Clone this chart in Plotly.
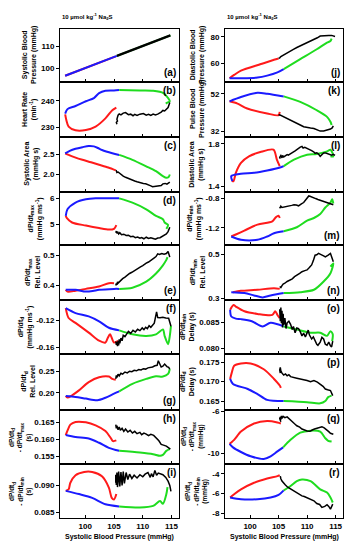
import plotly.graph_objects as go

# ---------------- data: (systolic BP, value) pairs per phase ----------------
a_red = [(105.3, 105.3), (96.5, 96.5)]
a_blue = [(96.5, 96.5), (105.5, 105.5)]
a_green = [(105.5, 105.5), (114.8, 114.8)]
a_black = [(114.8, 114.8), (105.5, 105.5)]

b_red = [(105.4, 237.5), (104.7, 236.5), (103.5, 233.4), (101.8, 230.3), (100.1, 229.0), (98.3, 228.9), (97.1, 230.3), (96.7, 232.8), (96.5, 234.9)]
b_blue = [(96.5, 235.2), (96.9, 236.9), (98.3, 238.1), (100.1, 239.9), (101.5, 241.1), (102.4, 243.0), (103.5, 243.9), (105.0, 244.0), (105.9, 244.1)]
b_green = [(105.9, 244.1), (109.5, 244.0), (111.8, 243.9), (113.6, 243.0), (114.4, 241.1), (114.7, 239.9), (114.2, 239.3), (114.0, 239.0)]
b_black = [(114.7, 239.4), (114.6, 238.5), (114.4, 237.5), (113.8, 236.2), (113.5, 236.4), (113.2, 235.8), (112.9, 235.3), (112.6, 235.0), (112.2, 234.7), (111.8, 235.0), (111.4, 234.5), (111.0, 234.9), (110.6, 234.6), (110.1, 235.2), (109.5, 235.0), (109.0, 234.5), (108.6, 234.9), (108.3, 234.4), (107.9, 235.0), (107.5, 234.8), (107.0, 235.6), (106.6, 235.4), (106.2, 234.7), (105.9, 235.1), (105.7, 234.6), (105.6, 233.8), (105.5, 233.1), (105.6, 232.4), (105.4, 231.9), (105.5, 231.2)]

c_red = [(105.3, 2.10), (104.0, 2.17), (102.4, 2.24), (101.0, 2.30), (99.5, 2.36), (98.2, 2.42), (97.1, 2.48), (96.5, 2.52)]
c_blue = [(96.5, 2.52), (97.3, 2.58), (98.3, 2.63), (99.5, 2.67), (100.6, 2.70), (101.5, 2.69), (102.2, 2.65), (102.9, 2.60), (104.7, 2.52), (105.9, 2.48)]
c_green = [(105.9, 2.48), (108.2, 2.36), (110.6, 2.20), (112.3, 2.08), (113.5, 1.96), (114.1, 1.92), (114.5, 1.94), (114.7, 2.00)]
c_black = [(114.7, 1.81), (114.5, 1.78), (114.2, 1.76), (113.9, 1.78), (113.5, 1.77), (113.2, 1.73), (112.8, 1.72), (112.4, 1.70), (112.0, 1.69), (111.7, 1.70), (111.4, 1.72), (111.1, 1.74), (110.8, 1.75), (110.5, 1.77), (110.1, 1.78), (109.7, 1.79), (109.4, 1.81), (109.0, 1.82), (108.6, 1.84), (108.2, 1.86), (107.8, 1.88), (107.4, 1.90), (107.0, 1.93), (106.6, 1.96), (106.2, 2.00), (105.9, 2.02), (105.7, 2.06), (105.5, 2.05), (105.4, 2.09), (105.3, 2.08)]

d_red = [(105.4, 4.96), (105.0, 4.81), (104.1, 4.78), (102.4, 4.84), (100.1, 4.94), (97.7, 5.06), (96.8, 5.23), (96.6, 5.32)]
d_blue = [(96.6, 5.32), (96.9, 5.58), (98.3, 5.84), (100.1, 5.97), (101.8, 6.01), (105.0, 6.01), (105.9, 6.01)]
d_green = [(105.9, 6.01), (108.2, 5.84), (110.6, 5.58), (112.3, 5.32), (113.5, 5.19), (113.8, 5.06), (114.4, 4.96), (114.1, 4.81)]
d_black = [(114.7, 4.87), (114.6, 4.78), (114.4, 4.70), (114.1, 4.61), (113.7, 4.56), (113.3, 4.50), (113.0, 4.46), (112.6, 4.45), (112.2, 4.40), (111.8, 4.43), (111.4, 4.46), (111.0, 4.43), (110.6, 4.48), (110.2, 4.42), (109.8, 4.47), (109.5, 4.44), (109.1, 4.49), (108.7, 4.46), (108.3, 4.52), (107.9, 4.50), (107.5, 4.56), (107.1, 4.55), (106.7, 4.60), (106.3, 4.58), (106.0, 4.66), (105.8, 4.61), (105.6, 4.70), (105.5, 4.63), (105.4, 4.72), (105.3, 4.66)]

e_red = [(105.0, 0.408), (104.1, 0.408), (102.4, 0.397), (100.1, 0.389), (98.3, 0.383), (96.9, 0.380), (96.6, 0.386)]
e_blue = [(96.6, 0.386), (98.3, 0.386), (100.1, 0.380), (101.3, 0.382), (102.4, 0.386), (105.0, 0.389), (105.9, 0.389)]
e_green = [(105.9, 0.389), (108.2, 0.393), (110.6, 0.413), (112.3, 0.440), (113.5, 0.467), (114.1, 0.485), (114.3, 0.494)]
e_black = [(114.7, 0.494), (114.5, 0.503), (114.4, 0.513), (114.1, 0.506), (113.7, 0.504), (113.3, 0.506), (112.9, 0.503), (112.6, 0.505), (112.3, 0.496), (112.0, 0.492), (111.7, 0.487), (111.4, 0.484), (111.0, 0.478), (110.6, 0.474), (110.3, 0.469), (110.0, 0.466), (109.6, 0.462), (109.3, 0.458), (108.9, 0.455), (108.5, 0.449), (108.1, 0.444), (107.7, 0.440), (107.3, 0.433), (106.9, 0.428), (106.5, 0.423), (106.2, 0.418), (105.9, 0.414), (105.7, 0.408), (105.6, 0.412), (105.5, 0.402), (105.4, 0.407), (105.3, 0.400)]

f_red = [(105.7, -0.150), (105.0, -0.1527), (104.3, -0.1405), (103.9, -0.146), (103.5, -0.1527), (102.4, -0.150), (100.6, -0.138), (98.3, -0.1234), (97.1, -0.1161), (96.6, -0.1015)]
f_blue = [(96.6, -0.1015), (98.3, -0.1088), (100.6, -0.1137), (102.4, -0.121), (104.1, -0.1307), (105.9, -0.1346)]
f_green = [(105.9, -0.1346), (108.2, -0.1405), (110.6, -0.1429), (112.3, -0.1405), (113.5, -0.1332), (113.8, -0.1429), (114.4, -0.1551), (114.7, -0.1429), (114.9, -0.128)]
f_black = [(114.9, -0.1285), (114.7, -0.1220), (114.5, -0.1165), (114.0, -0.1160), (113.5, -0.1150), (113.0, -0.1158), (112.6, -0.1155), (112.4, -0.1070), (112.2, -0.1180), (112.0, -0.1240), (111.7, -0.1270), (111.4, -0.1300), (111.1, -0.1275), (110.8, -0.1320), (110.5, -0.1300), (110.2, -0.1335), (109.9, -0.1310), (109.5, -0.1350), (109.1, -0.1330), (108.7, -0.1370), (108.3, -0.1345), (107.9, -0.1390), (107.5, -0.1360), (107.2, -0.1410), (106.9, -0.1440), (106.6, -0.1420), (106.4, -0.1500), (106.2, -0.1460), (106.0, -0.1540), (105.9, -0.1480), (105.8, -0.1570), (105.7, -0.1500), (105.6, -0.1580), (105.5, -0.1520), (105.4, -0.1560), (105.3, -0.1510)]

g_red = [(105.3, 0.2305), (104.7, 0.2328), (104.1, 0.2383), (102.4, 0.2367), (100.6, 0.225), (98.9, 0.2055), (97.7, 0.1938), (96.9, 0.1883), (96.6, 0.1922)]
g_blue = [(96.6, 0.1922), (98.3, 0.190), (100.1, 0.186), (102.1, 0.182), (103.5, 0.188), (105.0, 0.1977), (105.9, 0.2031)]
g_green = [(105.9, 0.2031), (108.2, 0.2211), (110.6, 0.2328), (112.3, 0.239), (113.5, 0.2383), (114.4, 0.2445), (114.7, 0.2563)]
g_black = [(114.7, 0.2560), (114.5, 0.2600), (114.2, 0.2620), (113.8, 0.2680), (113.5, 0.2630), (113.2, 0.2610), (112.9, 0.2700), (112.7, 0.2760), (112.5, 0.2650), (112.1, 0.2640), (111.7, 0.2610), (111.3, 0.2605), (110.9, 0.2590), (110.5, 0.2560), (110.1, 0.2570), (109.7, 0.2540), (109.3, 0.2550), (108.9, 0.2520), (108.5, 0.2530), (108.1, 0.2500), (107.7, 0.2510), (107.3, 0.2470), (106.9, 0.2490), (106.5, 0.2440), (106.2, 0.2460), (105.9, 0.2400), (105.7, 0.2440), (105.5, 0.2360), (105.4, 0.2410), (105.3, 0.2330)]

h_red = [(105.4, 0.1597), (104.8, 0.1595), (104.4, 0.1605), (103.5, 0.1625), (101.8, 0.1642), (100.1, 0.1651), (98.3, 0.1652), (97.4, 0.1644), (96.9, 0.1626), (96.6, 0.1613)]
h_blue = [(96.6, 0.1613), (98.3, 0.1607), (100.6, 0.1603), (102.4, 0.159), (104.1, 0.1575), (105.9, 0.1566)]
h_green = [(105.9, 0.1566), (109.5, 0.1561), (111.8, 0.1556), (113.0, 0.1551), (113.5, 0.1554), (114.1, 0.1566), (114.7, 0.1571)]
h_black = [(114.8, 0.1571), (114.5, 0.1575), (114.1, 0.1580), (113.6, 0.1583), (113.2, 0.1585), (112.8, 0.1596), (112.3, 0.1605), (111.9, 0.1612), (111.4, 0.1615), (111.0, 0.1611), (110.6, 0.1616), (110.2, 0.1619), (109.8, 0.1614), (109.5, 0.1621), (109.0, 0.1617), (108.6, 0.1624), (108.2, 0.1619), (107.8, 0.1627), (107.4, 0.1622), (107.0, 0.1631), (106.7, 0.1624), (106.4, 0.1633), (106.1, 0.1627), (105.9, 0.1637), (105.7, 0.1629), (105.5, 0.1641), (105.4, 0.1633), (105.3, 0.1644)]

i_red = [(105.4, 0.0884), (105.0, 0.0874), (104.6, 0.0877), (104.1, 0.0896), (102.9, 0.0917), (101.2, 0.0925), (99.8, 0.0925), (98.3, 0.0919), (97.4, 0.0905), (97.1, 0.0893), (96.6, 0.0890)]
i_blue = [(96.6, 0.0890), (98.9, 0.0884), (101.2, 0.0877), (103.5, 0.0865), (105.9, 0.0861)]
i_green = [(105.9, 0.0861), (109.5, 0.0859), (111.8, 0.0862), (113.0, 0.0871), (113.5, 0.0866), (114.1, 0.0884), (114.3, 0.0897)]
i_black = [(114.9, 0.0889), (114.7, 0.0900), (114.4, 0.0908), (114.0, 0.0915), (113.5, 0.0920), (113.1, 0.0921), (112.7, 0.0923), (112.4, 0.0919), (112.1, 0.0928), (111.8, 0.0916), (111.5, 0.0922), (111.3, 0.0915), (110.9, 0.0924), (110.4, 0.0921), (110.0, 0.0916), (109.5, 0.0920), (109.0, 0.0914), (108.5, 0.0919), (108.1, 0.0913), (107.7, 0.0921), (107.4, 0.0911), (107.1, 0.0924), (106.8, 0.0904), (106.6, 0.0926), (106.4, 0.0900), (106.2, 0.0925), (106.0, 0.0898), (105.8, 0.0926), (105.6, 0.0897), (105.5, 0.0924), (105.4, 0.0901), (105.3, 0.0920), (105.3, 0.0905)]

j_red = [(105.0, 63.5), (104.2, 62.5), (101.9, 59.25), (98.4, 54.25), (97.2, 51.0), (96.4, 48.5)]
j_blue = [(96.4, 48.5), (98.4, 48.5), (101.3, 49.0), (103.0, 50.5), (104.8, 53.0), (105.9, 55.5)]
j_green = [(105.9, 55.5), (108.8, 63.0), (111.7, 70.5), (113.5, 75.5), (114.1, 76.75), (114.3, 78.5)]
j_black = [(114.9, 80.2), (114.6, 80.8), (114.3, 81.0), (113.8, 80.9), (113.2, 80.7), (112.6, 80.4), (112.3, 80.5), (111.8, 79.2), (111.2, 78.0), (110.6, 77.2), (110.0, 76.0), (109.4, 74.6), (108.8, 73.0), (108.2, 71.8), (107.6, 70.4), (107.1, 69.3), (106.5, 68.0), (106.0, 66.8), (105.6, 66.0), (105.4, 65.0), (105.2, 64.0), (105.0, 63.5)]

k_red = [(105.2, 42.4), (105.0, 40.7), (103.0, 41.6), (99.5, 44.2), (97.8, 46.8), (96.4, 48.0)]
k_blue = [(96.4, 48.0), (98.4, 50.3), (101.3, 52.5), (103.0, 52.0), (105.9, 50.6)]
k_green = [(105.9, 50.6), (108.8, 47.7), (111.7, 43.3), (113.5, 39.8), (114.1, 37.2), (114.3, 35.5)]
k_black = [(114.6, 35.1), (114.4, 34.0), (114.1, 33.4), (113.5, 32.8), (112.9, 32.4), (112.3, 32.3), (111.8, 33.0), (111.2, 33.7), (110.6, 33.9), (110.0, 34.3), (109.4, 34.6), (108.8, 35.5), (108.2, 36.4), (107.7, 37.2), (107.1, 38.0), (106.5, 38.9), (105.9, 39.8), (105.5, 40.3), (105.2, 40.9), (105.0, 40.7)]

l_red = [(105.2, 1.588), (104.7, 1.650), (104.1, 1.744), (101.8, 1.722), (99.8, 1.681), (98.4, 1.619), (97.5, 1.525), (97.1, 1.447), (96.8, 1.447)]
l_blue = [(96.9, 1.447), (96.7, 1.494), (98.4, 1.516), (100.7, 1.525), (103.0, 1.547), (105.4, 1.578), (105.9, 1.588)]
l_green = [(105.9, 1.588), (107.7, 1.650), (110.0, 1.697), (111.7, 1.703), (113.5, 1.728), (114.1, 1.744), (114.6, 1.681), (114.1, 1.681)]
l_black = [(114.9, 1.690), (114.6, 1.700), (114.3, 1.692), (114.1, 1.697), (113.7, 1.706), (113.3, 1.712), (112.9, 1.713), (112.6, 1.695), (112.3, 1.681), (112.0, 1.702), (111.7, 1.715), (111.4, 1.710), (111.2, 1.722), (110.8, 1.735), (110.4, 1.748), (110.0, 1.759), (109.6, 1.766), (109.3, 1.760), (109.1, 1.775), (108.8, 1.768), (108.5, 1.752), (108.2, 1.744), (107.9, 1.732), (107.6, 1.720), (107.4, 1.713), (107.0, 1.703), (106.7, 1.692), (106.5, 1.697), (106.2, 1.685), (105.9, 1.676), (105.7, 1.690), (105.6, 1.666), (105.4, 1.688), (105.2, 1.672), (105.3, 1.660)]

m_red = [(105.2, -1.065), (105.0, -1.034), (104.5, -1.056), (103.9, -1.110), (101.3, -1.155), (99.0, -1.236), (97.5, -1.290), (96.7, -1.317)]
m_blue = [(96.7, -1.317), (98.4, -1.362), (101.3, -1.362), (103.0, -1.317), (104.2, -1.272), (105.9, -1.245)]
m_green = [(105.9, -1.245), (108.2, -1.191), (110.0, -1.101), (111.2, -1.065), (112.3, -1.011), (113.2, -0.921), (114.1, -0.854), (114.4, -0.809), (114.6, -0.867)]
m_black = [(114.6, -0.885), (114.3, -0.878), (113.9, -0.864), (113.5, -0.854), (113.1, -0.845), (112.7, -0.833), (112.3, -0.822), (111.9, -0.812), (111.5, -0.800), (111.2, -0.787), (110.8, -0.775), (110.5, -0.768), (110.3, -0.764), (110.0, -0.790), (109.7, -0.820), (109.4, -0.854), (109.0, -0.872), (108.5, -0.899), (108.1, -0.889), (107.7, -0.885), (107.3, -0.893), (106.8, -0.899), (106.4, -0.906), (106.0, -0.915), (105.6, -0.921), (105.4, -0.905), (105.3, -0.930), (105.2, -0.912)]

n_red = [(105.2, 0.342), (104.2, 0.345), (101.3, 0.338), (98.4, 0.333), (97.0, 0.327)]
n_blue = [(96.7, 0.327), (99.0, 0.323), (100.7, 0.312), (102.2, 0.303), (103.6, 0.312), (105.9, 0.323)]
n_green = [(105.9, 0.323), (108.8, 0.327), (111.2, 0.338), (112.9, 0.376), (114.1, 0.414), (114.6, 0.459), (114.1, 0.444)]
n_black = [(114.6, 0.467), (114.4, 0.486), (114.1, 0.505), (113.7, 0.497), (113.2, 0.489), (112.9, 0.494), (112.6, 0.497), (112.3, 0.503), (112.0, 0.505), (111.7, 0.499), (111.4, 0.497), (111.1, 0.472), (110.8, 0.452), (110.4, 0.440), (110.0, 0.429), (109.6, 0.426), (109.1, 0.421), (108.7, 0.413), (108.2, 0.406), (107.8, 0.398), (107.4, 0.388), (106.9, 0.382), (106.5, 0.376), (106.1, 0.368), (105.8, 0.364), (105.6, 0.357), (105.4, 0.348), (105.2, 0.353)]

o_red = [(105.2, 0.0858), (104.8, 0.0864), (104.4, 0.0871), (103.9, 0.0864), (101.3, 0.0866), (99.0, 0.0871), (97.5, 0.0880), (97.1, 0.0883), (96.5, 0.0874)]
o_blue = [(96.5, 0.0874), (96.7, 0.0861), (97.5, 0.0857), (98.4, 0.0856), (100.3, 0.0852), (102.2, 0.0842), (103.6, 0.0849), (105.9, 0.0842)]
o_green = [(105.9, 0.0842), (108.2, 0.0836), (110.6, 0.0830), (112.3, 0.0830), (113.5, 0.0824), (114.1, 0.0833), (114.5, 0.0827), (114.4, 0.0814)]
o_black = [(114.5, 0.0814), (114.3, 0.0803), (114.1, 0.0805), (113.8, 0.0812), (113.5, 0.0806), (113.2, 0.0808), (112.9, 0.0818), (112.6, 0.0821), (112.3, 0.0812), (111.9, 0.0806), (111.7, 0.0808), (111.4, 0.0816), (111.1, 0.0822), (110.8, 0.0818), (110.4, 0.0826), (110.2, 0.0835), (110.0, 0.0830), (109.7, 0.0822), (109.4, 0.0829), (109.1, 0.0824), (108.8, 0.0832), (108.5, 0.0838), (108.2, 0.0839), (107.9, 0.0830), (107.6, 0.0842), (107.4, 0.0836), (107.1, 0.0846), (106.8, 0.0852), (106.5, 0.0849), (106.3, 0.0838), (106.1, 0.0858), (105.9, 0.0845), (105.8, 0.0866), (105.7, 0.0840), (105.6, 0.0872), (105.5, 0.0848), (105.4, 0.0878), (105.3, 0.0852), (105.2, 0.0875), (105.3, 0.0860)]

p_red = [(105.4, 0.1684), (105.2, 0.1690), (104.2, 0.1707), (102.4, 0.1732), (100.1, 0.1747), (98.4, 0.1747), (97.2, 0.1741), (96.8, 0.1724), (96.5, 0.1707)]
p_blue = [(96.5, 0.1707), (97.0, 0.1694), (99.6, 0.1681), (101.3, 0.1668), (103.0, 0.1653), (105.9, 0.1650)]
p_green = [(105.9, 0.1650), (110.0, 0.1647), (112.3, 0.1644), (113.2, 0.1650), (113.7, 0.1660), (114.3, 0.1664)]
p_black = [(114.5, 0.1664), (114.3, 0.1672), (114.1, 0.1677), (113.6, 0.1679), (113.2, 0.1681), (112.8, 0.1688), (112.3, 0.1694), (111.8, 0.1699), (111.2, 0.1703), (110.6, 0.1700), (110.0, 0.1703), (109.4, 0.1706), (108.8, 0.1707), (108.2, 0.1709), (107.7, 0.1711), (107.1, 0.1713), (106.8, 0.1718), (106.5, 0.1715), (106.2, 0.1720), (105.9, 0.1717), (105.6, 0.1722), (105.4, 0.1728), (105.3, 0.1737), (105.2, 0.1730), (105.3, 0.1722)]

q_red = [(105.4, -7.17), (104.8, -7.07), (103.0, -6.94), (100.7, -7.17), (98.4, -7.95), (97.2, -8.74), (96.7, -8.99), (96.4, -9.12)]
q_blue = [(96.4, -9.12), (97.0, -9.46), (98.4, -9.90), (100.1, -10.31), (102.4, -10.57), (103.6, -10.31), (104.8, -9.84), (105.8, -9.46)]
q_green = [(105.8, -9.46), (107.1, -8.74), (108.8, -8.05), (110.6, -7.86), (112.3, -7.95), (113.2, -8.58), (113.7, -8.83), (114.3, -8.90)]
q_black = [(114.6, -8.20), (114.4, -8.15), (114.1, -8.11), (113.8, -7.95), (113.5, -7.80), (113.0, -7.60), (112.6, -7.48), (112.2, -7.55), (111.7, -7.57), (111.3, -7.70), (110.9, -7.80), (110.5, -7.92), (110.0, -7.89), (109.6, -7.82), (109.1, -7.70), (108.7, -7.52), (108.2, -7.39), (107.8, -7.20), (107.4, -7.01), (106.9, -6.75), (106.5, -6.54), (106.1, -6.62), (105.8, -6.50), (105.6, -6.69), (105.5, -6.45), (105.4, -6.80), (105.3, -6.55), (105.2, -6.69), (105.4, -7.01)]

r_red = [(105.2, -4.13), (104.8, -4.23), (103.0, -4.47), (100.7, -4.90), (98.4, -5.57), (97.2, -6.07), (96.5, -6.40)]
r_blue = [(96.5, -6.40), (98.4, -6.57), (101.3, -6.57), (103.6, -6.40), (105.0, -6.13), (105.9, -5.67)]
r_green = [(105.9, -5.67), (107.1, -5.23), (108.2, -4.73), (109.1, -4.57), (110.6, -4.73), (112.3, -5.57), (113.5, -5.90), (114.1, -6.40), (114.5, -6.90)]
r_black = [(114.5, -7.07), (114.3, -7.40), (114.1, -7.57), (113.8, -7.30), (113.5, -7.13), (113.1, -7.30), (112.6, -7.40), (112.2, -7.10), (111.7, -7.00), (111.2, -6.73), (110.6, -6.55), (110.0, -6.40), (109.5, -6.30), (109.1, -6.23), (108.6, -6.05), (108.2, -5.90), (107.6, -5.75), (107.1, -5.57), (106.6, -5.35), (106.2, -5.13), (105.9, -4.95), (105.6, -4.73), (105.4, -4.50), (105.3, -4.23)]

# y-axis ranges, ticks and titles
y_ranges = {
    "a": [93.6, 117.8], "b": [226.5, 247.1], "c": [1.57, 2.93], "d": [4.16, 6.26],
    "e": [0.353, 0.533], "f": [-0.170, -0.089], "g": [0.160, 0.2915], "h": [0.1527, 0.1689],
    "i": [0.0839, 0.0940], "j": [45.5, 86.0], "k": [29.4, 58.1], "l": [1.344, 1.868],
    "m": [-1.438, -0.71], "n": [0.292, 0.542], "o": [0.0789, 0.0893], "p": [0.1628, 0.1771],
    "q": [-11.04, -5.84], "r": [-8.5, -3.0],
}
y_ticks = {
    "a": ["100", "110"], "b": ["230", "240"], "c": ["2.0", "2.5"], "d": ["5", "6"],
    "e": ["0.4", "0.5"], "f": ["-0.12", "-0.16"], "g": ["0.20", "0.25"],
    "h": ["0.155", "0.160", "0.165"], "i": ["0.085", "0.090"], "j": ["60", "80"],
    "k": ["32", "52"], "l": ["1.4", "1.8"], "m": ["-1.2", "-0.8"], "n": ["0.3", "0.5"],
    "o": ["0.080", "0.085"], "p": ["0.165", "0.170", "0.175"], "q": ["-10", "-6"],
    "r": ["-8", "-6", "-4"],
}
y_titles = {
    "a": "Systolic Blood<br>Pressure (mmHg)",
    "b": "Heart Rate<br>(min<sup>-1</sup>)",
    "c": "Systolic Area<br>(mmHg s)",
    "d": "dP/dt<sub>max</sub><br>(mmHg ms<sup>-1</sup>)",
    "e": "dP/dt<sub>max</sub><br>Rel. Level",
    "f": "dP/dt<sub>d</sub><br>(mmHg ms<sup>-1</sup>)",
    "g": "dP/dt<sub>d</sub><br>Rel. Level",
    "h": "dP/dt<sub>d</sub><br>- dP/dt<sub>max</sub><br>(s)",
    "i": "dP/dt<sub>d</sub><br>- dP/dt<sub>min</sub><br>(s)",
    "j": "Diastolic Blood<br>Pressure (mmHg)",
    "k": "Pulse Blood<br>Pressure (mmHg)",
    "l": "Diastolic Area<br>(mmHg s)",
    "m": "dP/dt<sub>min</sub><br>(mmHg ms<sup>-1</sup>)",
    "n": "dP/dt<sub>min</sub><br>Rel. Level",
    "o": "dP/dt<sub>min</sub><br>Delay (s)",
    "p": "dP/dt<sub>d</sub><br>Delay (s)",
    "q": "dP/dt<sub>d</sub><br>- dP/dt<sub>max</sub><br>(mmHg)",
    "r": "dP/dt<sub>d</sub><br>- dP/dt<sub>min</sub><br>(mmHg)",
}
label_pos = {"a": "bottom", "e": "bottom", "g": "bottom", "j": "bottom", "m": "bottom", "n": "bottom"}
x_ticks = [100, 105, 110, 115]
x_title = "Systolic Blood Pressure (mmHg)"
col_title = "10 µmol kg<sup>-1</sup> Na<sub>2</sub>S"

data = {
    "a": (a_red, a_blue, a_green, a_black), "b": (b_red, b_blue, b_green, b_black),
    "c": (c_red, c_blue, c_green, c_black), "d": (d_red, d_blue, d_green, d_black),
    "e": (e_red, e_blue, e_green, e_black), "f": (f_red, f_blue, f_green, f_black),
    "g": (g_red, g_blue, g_green, g_black), "h": (h_red, h_blue, h_green, h_black),
    "i": (i_red, i_blue, i_green, i_black), "j": (j_red, j_blue, j_green, j_black),
    "k": (k_red, k_blue, k_green, k_black), "l": (l_red, l_blue, l_green, l_black),
    "m": (m_red, m_blue, m_green, m_black), "n": (n_red, n_blue, n_green, n_black),
    "o": (o_red, o_blue, o_green, o_black), "p": (p_red, p_blue, p_green, p_black),
    "q": (q_red, q_blue, q_green, q_black), "r": (r_red, r_blue, r_green, r_black),
}

# ---------------- layout geometry (window pixels; page body has an 8px margin) ----------------
OFF = 8
W, H = 352 - OFF, 550 - OFF
FONT = "Liberation Sans, Arial, sans-serif"
tops = [26, 80, 135, 191, 245, 300, 355, 411, 466]
bots = [80, 135, 191, 245, 300, 355, 411, 466, 521]
col_x = [(60, 179), (225, 343)]
title_right = {"a": 40, "b": 40, "c": 42, "d": 46, "e": 42, "f": 36, "g": 38, "h": 35, "i": 35,
               "j": 208, "k": 208, "l": 207, "m": 205, "n": 207, "o": 198, "p": 198, "q": 207, "r": 211}
colors = ["#ff1a1a", "#1a1aff", "#1fdc1f", "#000000"]
widths = [2.0, 2.0, 2.0, 1.5]


def px(v):
    return (v - OFF) / W


def py(v):
    return 1 - (v - OFF) / H


fig = go.Figure()
layout = dict(width=W, height=H, margin=dict(l=0, r=0, t=0, b=0),
              paper_bgcolor="white", plot_bgcolor="white", showlegend=False,
              font=dict(family=FONT, color="black"))
annotations = []
keys = list("abcdefghijklmnopqr")
for idx, key in enumerate(keys):
    col, row = divmod(idx, 9)
    n = idx + 1
    xa = "x" if n == 1 else f"x{n}"
    ya = "y" if n == 1 else f"y{n}"
    for s_i, (series, c, w) in enumerate(zip(data[key], colors, widths)):
        if key == "a" and s_i == 3:
            w = 2.4
        fig.add_trace(go.Scatter(
            x=[pt[0] for pt in series], y=[pt[1] for pt in series], mode="lines",
            line=dict(color=c, width=w, shape="spline" if c != "#000000" else "linear", smoothing=0.8),
            xaxis=xa, yaxis=ya, hoverinfo="skip"))
    x0, x1 = col_x[col]
    layout[f"xaxis{n}"] = dict(
        domain=[px(x0), px(x1)], anchor=ya, range=[95.6, 116.3],
        tickvals=x_ticks, ticks="inside", ticklen=3, tickwidth=1, tickcolor="black",
        showticklabels=(row == 8), showline=True, mirror=True, linecolor="black", linewidth=1,
        showgrid=False, zeroline=False,
        tickfont=dict(family=FONT, size=8, color="black", weight="bold"))
    tv = [float(t) for t in y_ticks[key]]
    layout[f"yaxis{n}"] = dict(
        domain=[py(bots[row]), py(tops[row])], anchor=xa, range=y_ranges[key],
        tickvals=tv, ticktext=y_ticks[key], ticks="outside", ticklen=3, tickwidth=1,
        tickcolor="black", showline=True, mirror=True, linecolor="black", linewidth=1,
        showgrid=False, zeroline=False,
        tickfont=dict(family=FONT, size=8, color="black", weight="bold"))
    n_lines = y_titles[key].count("<br>") + 1
    annotations.append(dict(
        text=y_titles[key], textangle=-90, xref="paper", yref="paper",
        x=px(title_right[key]), xanchor="right",
        y=py((tops[row] + bots[row]) / 2), yanchor="middle", showarrow=False, align="center",
        font=dict(family=FONT, size=7 if n_lines < 3 else 6.5, color="black", weight="bold")))
    if label_pos.get(key) == "bottom":
        ly, lya = py(bots[row] - 2), "bottom"
    else:
        ly, lya = py(tops[row] + 1), "top"
    annotations.append(dict(
        text=f"({key})", xref="paper", yref="paper", x=px(x1 - 1), xanchor="right",
        y=ly, yanchor=lya, showarrow=False,
        font=dict(family=FONT, size=10, color="black", weight="bold")))

for x0, x1 in col_x:
    annotations.append(dict(
        text=col_title, xref="paper", yref="paper", x=px(x0), xanchor="left",
        y=py(14), yanchor="middle", showarrow=False,
        font=dict(family=FONT, size=6, color="black", weight="bold")))
    annotations.append(dict(
        text=x_title, xref="paper", yref="paper", x=px((x0 + x1) / 2), xanchor="center",
        y=py(540), yanchor="middle", showarrow=False,
        font=dict(family=FONT, size=7, color="black", weight="bold")))

layout["annotations"] = annotations
fig.update_layout(**layout)
fig.write_html("out.html")
